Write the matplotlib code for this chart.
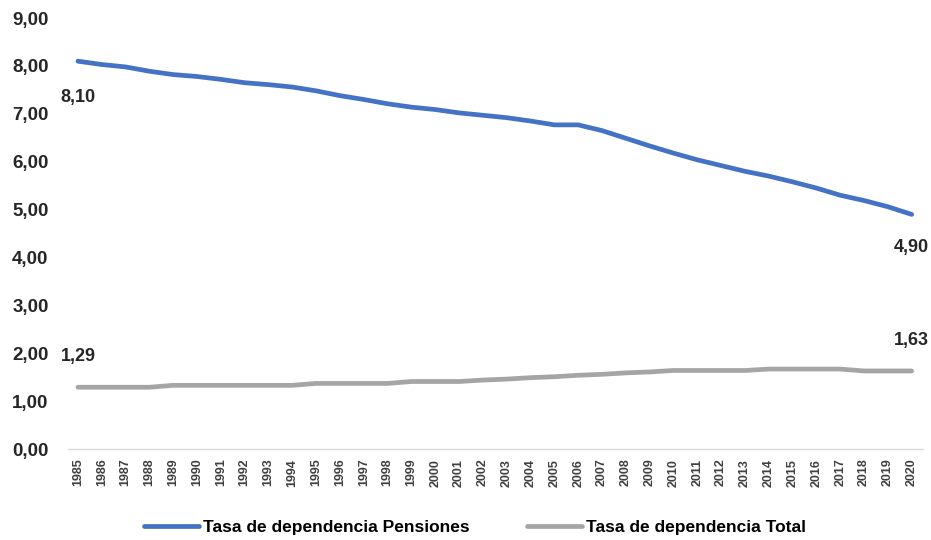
import matplotlib
matplotlib.use("Agg")
import matplotlib.pyplot as plt
from matplotlib.ticker import FuncFormatter

# -----------------------------
# Data
# -----------------------------
years = list(range(1985, 2021))

tasa_pensiones = [
    8.10, 8.03, 7.98, 7.89, 7.82, 7.78, 7.72, 7.65, 7.61, 7.56,
    7.48, 7.38, 7.30, 7.21, 7.14, 7.09, 7.02, 6.97, 6.92, 6.85,
    6.77, 6.77, 6.65, 6.49, 6.33, 6.18, 6.04, 5.92, 5.80, 5.70,
    5.58, 5.45, 5.30, 5.19, 5.06, 4.90
]

tasa_total = [
    1.29, 1.29, 1.29, 1.29, 1.33, 1.33, 1.33, 1.33, 1.33, 1.33,
    1.37, 1.37, 1.37, 1.37, 1.41, 1.41, 1.41, 1.44, 1.46, 1.49,
    1.51, 1.54, 1.56, 1.59, 1.61, 1.64, 1.64, 1.64, 1.64, 1.67,
    1.67, 1.67, 1.67, 1.63, 1.63, 1.63
]

labels = ["Tasa de dependencia Pensiones", "Tasa de dependencia Total"]
colors = ["#4472C4", "#A5A5A5"]

# -----------------------------
# Plot
# -----------------------------
plt.rcParams["font.family"] = ["Liberation Sans", "DejaVu Sans"]

fig = plt.figure(figsize=(9.31, 5.40), dpi=100)
ax = fig.add_axes([0.073, 0.1685, 0.918, 0.798])

x = list(range(len(years)))

ax.plot(x, tasa_pensiones, color=colors[0], linewidth=3.4,
        solid_capstyle="round", label=labels[0])
ax.plot(x, tasa_total, color=colors[1], linewidth=3.4,
        solid_capstyle="round", label=labels[1])

# value labels at first and last points
def fmt(v):
    return f"{v:.2f}".replace(".", ",")

lbl_kw = dict(fontsize=13, fontweight="bold", color="#262626", ha="center")
ax.annotate(fmt(tasa_pensiones[0]), (x[0], tasa_pensiones[0]),
            xytext=(0, -20), textcoords="offset points", va="top", **lbl_kw)
ax.annotate(fmt(tasa_pensiones[-1]), (x[-1], tasa_pensiones[-1]),
            xytext=(0, -18), textcoords="offset points", va="top", **lbl_kw)
ax.annotate(fmt(tasa_total[0]), (x[0], tasa_total[0]),
            xytext=(0, 16), textcoords="offset points", va="bottom", **lbl_kw)
ax.annotate(fmt(tasa_total[-1]), (x[-1], tasa_total[-1]),
            xytext=(0, 16), textcoords="offset points", va="bottom", **lbl_kw)

ax.set_ylim(0, 9)
ax.set_yticks(range(0, 10))
ax.yaxis.set_major_formatter(FuncFormatter(lambda v, p: fmt(v)))
ax.set_xlim(-0.42, 35.46)
ax.set_xticks(x)
ax.set_xticklabels([str(y) for y in years], rotation=90, fontsize=9,
                   color="#404040", fontweight="bold",
                   family=["Liberation Sans Narrow", "Liberation Sans"])

for lab in ax.get_yticklabels():
    lab.set_fontweight("bold")
    lab.set_fontsize(13.5)
    lab.set_color("#262626")

for side in ["top", "right", "left"]:
    ax.spines[side].set_visible(False)
ax.spines["bottom"].set_color("#D9D9D9")
ax.spines["bottom"].set_linewidth(1.0)
ax.tick_params(axis="both", length=0)
ax.tick_params(axis="y", pad=14)
ax.tick_params(axis="x", pad=7)

fig.legend(loc="center", ncol=2, frameon=False,
           bbox_to_anchor=(0.51, 1 - 527 / 540),
           prop={"weight": "bold", "size": 12.5},
           handlelength=3.2, columnspacing=3.3, handletextpad=0.2)

fig.savefig("out.png", dpi=100)
